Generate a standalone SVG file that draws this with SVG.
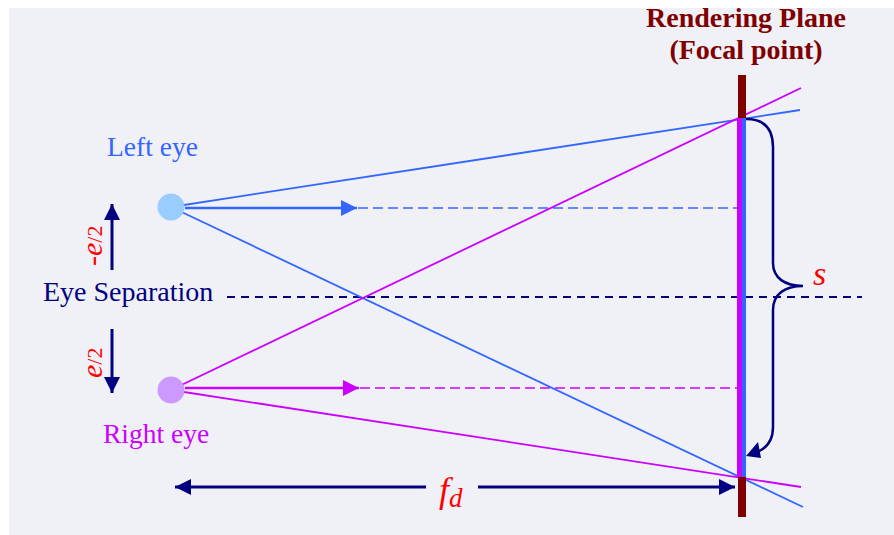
<svg xmlns="http://www.w3.org/2000/svg" width="894" height="535" viewBox="0 0 894 535">
<style>
.serif{font-family:"Liberation Serif","Times New Roman",serif}
.blue{stroke:#3366FF;fill:none}
.mag{stroke:#CC00FF;fill:none}
.navy{stroke:#000080;fill:none}
.red{fill:#FF0000}
</style>
<defs>
<marker id="ahBlue" viewBox="0 0 10 10" refX="10" refY="5" markerWidth="16" markerHeight="16" markerUnits="userSpaceOnUse" orient="auto"><path d="M0,0 L10,5 L0,10 z" fill="#3366FF"/></marker>
<marker id="ahMag" viewBox="0 0 10 10" refX="10" refY="5" markerWidth="16" markerHeight="16" markerUnits="userSpaceOnUse" orient="auto"><path d="M0,0 L10,5 L0,10 z" fill="#CC00FF"/></marker>
<marker id="ahNavy" viewBox="0 0 10 10" refX="10" refY="5" markerWidth="16" markerHeight="16" markerUnits="userSpaceOnUse" orient="auto-start-reverse"><path d="M0,0 L10,5 L0,10 z" fill="#000080"/></marker>
</defs>
<rect x="9" y="8" width="885" height="527" fill="#F0F1F7"/>

<g id="connectors">
<line x1="227" y1="297" x2="862" y2="297" class="navy" stroke-width="2" stroke-dasharray="8,6"/>
<line x1="358" y1="208" x2="738" y2="208" class="blue" stroke-width="1.5" stroke-dasharray="10,5"/>
<line x1="360" y1="388" x2="738" y2="388" class="mag" stroke-width="1.5" stroke-dasharray="10,5"/>
<line x1="171" y1="207" x2="800" y2="110" class="blue" stroke-width="1.8"/>
<line x1="171" y1="207" x2="803" y2="507" class="blue" stroke-width="1.8"/>
<line x1="171" y1="390" x2="801" y2="88" class="mag" stroke-width="1.8"/>
<line x1="171" y1="390" x2="801" y2="487" class="mag" stroke-width="1.8"/>
<line x1="185" y1="208" x2="357" y2="208" class="blue" stroke-width="2.5" marker-end="url(#ahBlue)"/>
<line x1="185" y1="388" x2="359" y2="388" class="mag" stroke-width="2.5" marker-end="url(#ahMag)"/>
<line x1="112" y1="270" x2="112" y2="204" class="navy" stroke-width="3" marker-end="url(#ahNavy)"/>
<line x1="112" y1="329" x2="112" y2="393" class="navy" stroke-width="3" marker-end="url(#ahNavy)"/>
<line x1="175" y1="487" x2="426" y2="487" class="navy" stroke-width="3" marker-start="url(#ahNavy)"/>
<line x1="478" y1="487" x2="735" y2="487" class="navy" stroke-width="3" marker-end="url(#ahNavy)"/>
<path d="M746,119 C764,119 773,128 773,147 L773,263 C773,278 785,286 803,286 C785,286 773,294 773,310 L773,427 C773,440 767,448 757,452" class="navy" stroke-width="2.5"/>
<polygon points="746,456 758,442 761,458" fill="#000080"/>
</g>

<g id="rendering-plane">
<rect x="738" y="75" width="8" height="442" fill="#800000"/>
<rect x="737" y="118" width="5" height="359" fill="#CC00FF"/>
<rect x="742" y="118" width="4" height="359" fill="#3366FF"/>
<text x="746" y="27" text-anchor="middle" class="serif" font-weight="bold" font-size="28" fill="#800000">Rendering Plane</text>
<text x="746" y="59" text-anchor="middle" class="serif" font-weight="bold" font-size="28" fill="#800000">(Focal point)</text>
</g>

<g id="left-eye">
<circle cx="171" cy="207" r="13.5" fill="#99CCFF"/>
<text x="107" y="156" class="serif" font-size="27.5" fill="#3366FF">Left eye</text>
</g>

<g id="right-eye">
<circle cx="171" cy="390" r="13.5" fill="#CC99FF"/>
<text x="103" y="443" class="serif" font-size="27.5" fill="#CC00FF">Right eye</text>
</g>

<g id="eye-separation">
<text x="43" y="301" class="serif" font-size="28" fill="#000080">Eye Separation</text>
<text transform="translate(102,266) rotate(-90)" class="serif red" font-size="30"><tspan font-style="italic">-e</tspan><tspan font-size="22">/2</tspan></text>
<text transform="translate(102,378) rotate(-90)" class="serif red" font-size="30"><tspan font-style="italic">e</tspan><tspan font-size="22">/2</tspan></text>
</g>

<g id="s-label">
<text x="813" y="285" class="serif red" font-style="italic" font-size="34">s</text>
</g>

<g id="fd-label">
<text x="439" y="502" class="serif red" font-style="italic" font-size="36">f<tspan font-size="27" dy="5" font-style="italic">d</tspan></text>
</g>
</svg>
